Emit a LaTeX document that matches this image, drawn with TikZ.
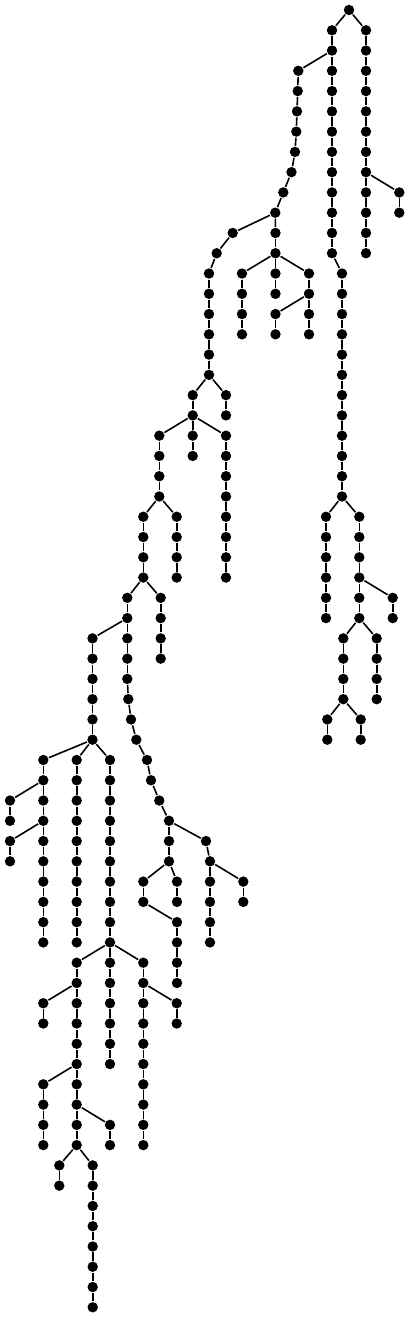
\documentclass[tikz,border=0pt]{standalone}
\usetikzlibrary{calc}

\tikzset{dot/.style={circle,fill=black,inner sep=0pt,minimum size=10.4pt}}

% straight chain: name, x, first level, last level
\newcommand\chain[4]{%
 \foreach \l in {#3,...,#4} {
  \node[dot] (#1-\l) at (#2,\l) {};
  \ifnum\l>#3\relax \pgfmathtruncatemacro\p{\l-1}\draw (#1-\p) -- (#1-\l);\fi
 }}
% bent chain: name, first level, list of x
\newcommand\wchain[3]{%
 \foreach \x [count=\l from #2] in {#3} {
  \node[dot] (#1-\l) at (\x,\l) {};
  \ifnum\l>#2\relax \pgfmathtruncatemacro\p{\l-1}\draw (#1-\p) -- (#1-\l);\fi
 }}

\begin{document}
\begin{tikzpicture}[x=1pt,y=-20.27pt,line width=1.6pt]
\useasboundingbox (0,-0.4933) rectangle (410,64.48);

\node[dot] (root) at (349,0) {};
\chain{a}{332}{1}{12}
\chain{b}{366}{1}{12}
\draw (root) -- (a-1);
\draw (root) -- (b-1);
\chain{b2}{399.3}{9}{10}
\draw (b-8) -- (b2-9);

\wchain{c}{3}{298.3,297.7,297,296.3,295,291.5,283.3,275.3}
\draw (a-2) -- (c-3);
\chain{d}{275.5}{11}{12}
\draw (c-10) -- (d-11);
\wchain{e}{11}{232.7,216.7,209,209,209,209,209,209}
\draw (c-10) -- (e-11);
\chain{f1}{242}{13}{16}
\chain{f2}{275.5}{13}{14}
\chain{f3}{309}{13}{16}
\chain{f4}{275.5}{15}{16}
\foreach \t in {f1,f2,f3} {
 \draw (d-12) -- (\t-13);
}
\draw (f3-14) -- (f4-15);

\chain{g}{342}{13}{24}
\draw (a-12) -- (g-13);
\chain{g1}{326}{25}{30}
\chain{g2}{359.3}{25}{30}
\draw (g-24) -- (g1-25);
\draw (g-24) -- (g2-25);
\chain{g3}{392.7}{29}{30}
\draw (g2-28) -- (g3-29);
\chain{g4}{343.3}{31}{34}
\chain{g5}{376.7}{31}{34}
\draw (g2-30) -- (g4-31);
\draw (g2-30) -- (g5-31);
\chain{g6}{327.3}{35}{36}
\chain{g7}{360.7}{35}{36}
\draw (g4-34) -- (g6-35);
\draw (g4-34) -- (g7-35);

\chain{h}{192.7}{19}{22}
\chain{h1}{226}{19}{20}
\draw (e-18) -- (h-19);
\draw (e-18) -- (h1-19);
\chain{h2}{226}{21}{28}
\draw (h-20) -- (h2-21);
\chain{i}{159.3}{21}{24}
\draw (h-20) -- (i-21);
\chain{i1}{176.7}{25}{28}
\chain{j}{143.3}{25}{28}
\draw (i-24) -- (i1-25);
\draw (i-24) -- (j-25);
\chain{j1}{160.7}{29}{32}
\draw (j-28) -- (j1-29);
\wchain{k}{29}{127.3,127.3,127.3,127.3,127.3,128.3,131,136.3,147,151,159.3,169,169,169}
\draw (j-28) -- (k-29);
\chain{k1}{143.3}{43}{44}
\chain{k2}{177}{43}{44}
\draw (k-42) -- (k1-43);
\draw (k-42) -- (k2-43);
\chain{k3}{177}{45}{48}
\draw (k1-44) -- (k3-45);
\wchain{l}{41}{206,210,210,210,210,210}
\draw (k-40) -- (l-41);
\chain{l1}{243.3}{43}{44}
\draw (l-42) -- (l1-43);

\chain{m}{92.5}{31}{36}
\draw (k-30) -- (m-31);
\chain{m1}{43.3}{37}{46}
\chain{m4}{76.7}{37}{46}
\chain{n}{110}{37}{46}
\foreach \t in {m1,m4,n} {
 \draw (m-36) -- (\t-37);
}
\chain{m2}{10}{39}{40}
\chain{m3}{10}{41}{42}
\draw (m1-38) -- (m2-39);
\draw (m1-40) -- (m3-41);

\chain{p}{76.7}{47}{56}
\chain{n1}{110}{47}{52}
\chain{n2}{143.3}{47}{56}
\foreach \t in {p,n1,n2} {
 \draw (n-46) -- (\t-47);
}
\chain{n3}{176.7}{49}{50}
\draw (n2-48) -- (n3-49);
\chain{p1}{43.3}{49}{50}
\draw (p-48) -- (p1-49);
\chain{p2}{43.3}{53}{56}
\draw (p-52) -- (p2-53);
\chain{p3}{110}{55}{56}
\draw (p-54) -- (p3-55);
\chain{p4}{59.3}{57}{58}
\chain{p5}{92.7}{57}{64}
\draw (p-56) -- (p4-57);
\draw (p-56) -- (p5-57);
\end{tikzpicture}
\end{document}
